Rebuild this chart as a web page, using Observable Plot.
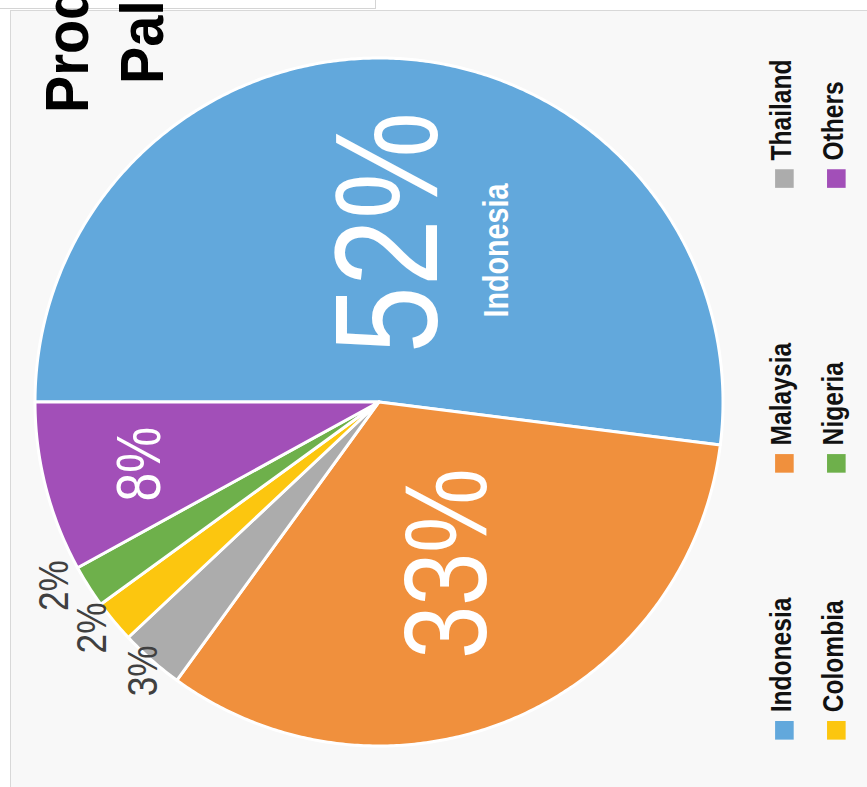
<!DOCTYPE html>
<html>
<head>
<meta charset="utf-8">
<script src="https://cdn.jsdelivr.net/npm/d3@7"></script>
<script src="https://cdn.jsdelivr.net/npm/@observablehq/plot@0.6"></script>
<style>
  html, body { margin: 0; padding: 0; background: #ffffff; }
  #wrap { position: relative; width: 867px; height: 787px; overflow: hidden; }
  #topbox { position: absolute; left: 0; top: 0; width: 375px; height: 8px;
            border-right: 1px solid #d4d4d4; border-bottom: 1px solid #d4d4d4; }
  .title { position: absolute; transform-origin: left top; transform: rotate(-90deg) scale(0.9, 1);
           font-family: "Liberation Sans", Arial, sans-serif; font-weight: bold;
           font-size: 62px; line-height: 75px; white-space: nowrap; color: #000; }
</style>
</head>
<body>
<div id="wrap">
  <div id="chart"></div>
  <div id="topbox"></div>
  <div class="title" style="left:29px; top:113px;">Production of</div>
  <div class="title" style="left:104px; top:84px;">Palm Oil</div>
</div>
<script>
const countries = ["Indonesia", "Malaysia", "Thailand", "Colombia", "Nigeria", "Others"];
const shares = [52, 33, 3, 2, 2, 8];
const colors = ["#62a8dc", "#f0903d", "#acacac", "#fcc60f", "#6eb04b", "#a24fb8"];

const font = "'Liberation Sans', Arial, sans-serif";

// pie layout (slices drawn clockwise starting from the left)
const arcs = d3.pie().sort(null).startAngle(-Math.PI / 2).endAngle(3 * Math.PI / 2)(shares);

// sector outlines sampled along the arc
const pts = [];
arcs.forEach((a, i) => {
  const n = Math.max(2, Math.ceil((a.endAngle - a.startAngle) / (Math.PI / 360)));
  for (let k = 0; k <= n; k++) {
    const t = a.startAngle + (a.endAngle - a.startAngle) * k / n;
    pts.push({country: countries[i], x: Math.sin(t), y: -Math.cos(t)});
  }
});

// slice labels (small slices get outside labels, staggered to avoid overlap)
let k = 0;
const labels = arcs.map((a, i) => {
  const s = shares[i];
  let mid = (a.startAngle + a.endAngle) / 2;
  let r;
  if (s > 40) r = 0.495;
  else if (s > 20) r = 0.51;
  else if (s > 5) r = 0.72;
  else { r = 1.04 + 0.022 * k; mid += (1.5 * k) * Math.PI / 180; k++; }
  return {
    country: countries[i], share: s, inside: s > 5,
    x: r * Math.sin(mid), y: -r * Math.cos(mid),
    size: s > 40 ? 147 : s > 20 ? 116 : s > 5 ? 63 : 43
  };
});

// legend (3 rows x 2 columns in the rotated layout)
const colX = [1.177, 1.328];
const rowY = [0.953, 0.177, -0.651];
const legend = countries.map((c, i) => ({country: c, x: colX[Math.floor(i / 3)], y: rowY[i % 3]}));

const chart = Plot.plot({
  width: 867,
  height: 787,
  marginLeft: 10,
  marginTop: 10,
  marginRight: 0,
  marginBottom: 0,
  x: {domain: [-1.0727, 1.4186], axis: null},
  y: {domain: [-1.1395, 1.1192], reverse: true, axis: null},
  color: {domain: countries, range: colors},
  style: {background: "transparent"},
  marks: [
    Plot.frame({fill: "#f8f8f8", stroke: "#d8d8d8"}),
    Plot.area(pts, {x1: d => 0, y1: d => 0, x2: "x", y2: "y", z: "country", fill: "country",
                    stroke: "white", strokeWidth: 3, strokeLinejoin: "round", curve: "linear"}),
    Plot.text(labels.filter(d => d.inside), {x: "x", y: "y", text: d => d.share + "%", rotate: -90,
      fill: "white", fontSize: "size", fontFamily: font, fontWeight: "normal"}),
    Plot.text(labels.filter(d => d.share > 40), {x: "x", y: "y", text: "country", rotate: -90,
      dx: 107, dy: 18, fill: "white", fontSize: 35, fontFamily: font, fontWeight: "bold"}),
    Plot.text(labels.filter(d => !d.inside), {x: "x", y: "y", text: d => d.share + "%", rotate: -90,
      fill: "#404040", fontSize: "size", fontFamily: font, fontWeight: "normal"}),
    Plot.dot(legend, {x: "x", y: "y", symbol: "square", r: 10.5, fill: "country", stroke: null}),
    Plot.text(legend, {x: "x", y: "y", text: "country", rotate: -90, textAnchor: "start",
      dy: -18, dx: -3, fill: "#111", fontSize: 30, fontFamily: font, fontWeight: "bold"})
  ]
});
// condense the lettering like a narrow typeface
chart.querySelectorAll("text").forEach(el => {
  const t = el.getAttribute("transform");
  if (t) el.setAttribute("transform", t + " scale(0.82,1)");
});
document.getElementById("chart").appendChild(chart);
</script>
</body>
</html>
